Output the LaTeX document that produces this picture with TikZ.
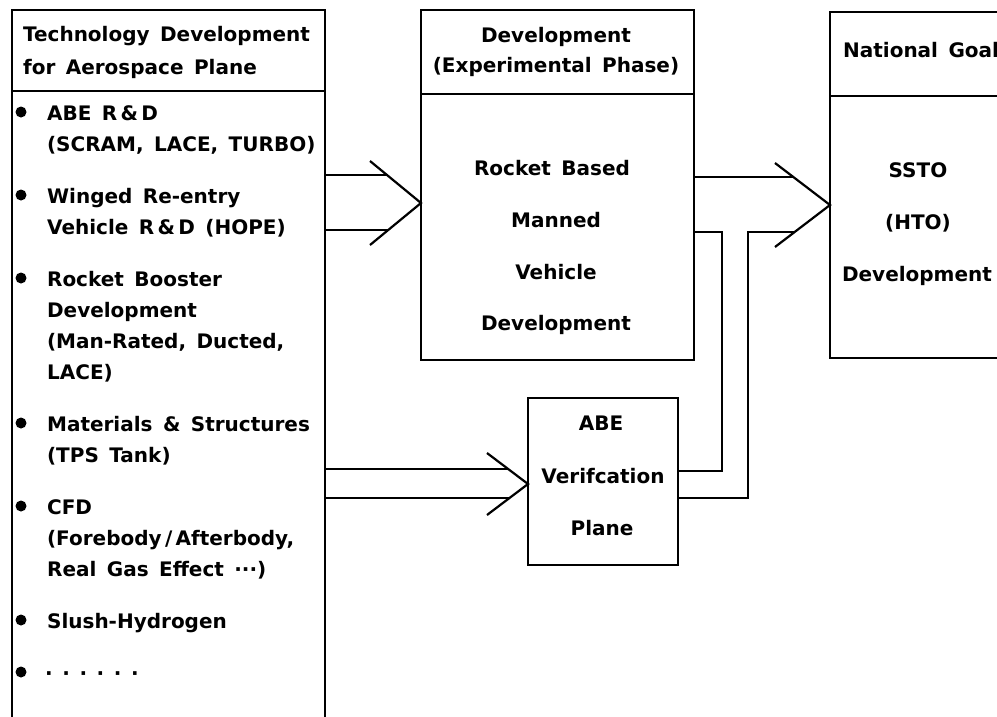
\documentclass[tikz,border=0pt]{standalone}
\usepackage{fontspec}
\setmainfont{DejaVu Sans}[WordSpace=1.5]
\begin{document}
\begin{tikzpicture}[x=1pt,y=-1pt,line width=2.2pt,
  txt/.style={font=\bfseries\fontsize{20}{24}\selectfont, inner sep=0pt},
  lt/.style={txt, anchor=base west},
  ct/.style={txt, anchor=base},
  bul/.style={fill, circle, inner sep=0pt, minimum size=11pt},
  boxnode/.style={draw, rectangle, inner sep=0pt, outer sep=0pt, anchor=north west},
  conn/.style={line width=2.2pt}]
\useasboundingbox (0,0) rectangle (997,716);
\begin{scope}
\clip (0,0) rectangle (997,716);

% ---------- boxes ----------
\coordinate (Lbl) at (12,720);
\coordinate (Ltl) at (12,10);
\coordinate (Ltr) at (325,10);
\coordinate (Lbr) at (325,720);
\draw (Lbl) -- (Ltl) -- (Ltr) -- (Lbr);
\coordinate (Ldl) at (12,91);
\coordinate (Ldr) at (325,91);
\draw (Ldl) -- (Ldr);

\node[boxnode, minimum width=273pt, minimum height=350pt] (mid) at (421,10) {};
\coordinate (Mdl) at (421,94);
\coordinate (Mdr) at (694,94);
\draw (Mdl) -- (Mdr);

\coordinate (Rtr) at (1010,12);
\coordinate (Rtl) at (830,12);
\coordinate (Rbl) at (830,358);
\coordinate (Rbr) at (1010,358);
\draw (Rtr) -- (Rtl) -- (Rbl) -- (Rbr);
\coordinate (Rdl) at (830,96);
\coordinate (Rdr) at (1010,96);
\draw (Rdl) -- (Rdr);

\node[boxnode, minimum width=150pt, minimum height=167pt] (abe) at (528,398) {};

% ---------- left box text ----------
\node[lt] (lh1) at (22,41) {Technology Development};
\node[lt] (lh2) at (22,74) {for Aerospace Plane};

\node[bul] (b1) at (21,112) {};
\node[lt] (t11) at (46,120) {ABE R\,\&\,D};
\node[lt] (t12) at (46,151) {(SCRAM, LACE, TURBO)};

\node[bul] (b2) at (21,195) {};
\node[lt] (t21) at (46,203) {Winged Re-entry};
\node[lt] (t22) at (46,234) {Vehicle R\,\&\,D (HOPE)};

\node[bul] (b3) at (21,278) {};
\node[lt] (t31) at (46,286) {Rocket Booster};
\node[lt] (t32) at (46,317) {Development};
\node[lt] (t33) at (46,348) {(Man-Rated, Ducted,};
\node[lt] (t34) at (46,379) {LACE)};

\node[bul] (b4) at (21,423) {};
\node[lt] (t41) at (46,431) {Materials \& Structures};
\node[lt] (t42) at (46,462) {(TPS Tank)};

\node[bul] (b5) at (21,506) {};
\node[lt] (t51) at (46,514) {CFD};
\node[lt] (t52) at (46,545) {(Forebody\,/\,Afterbody,};
\node[lt] (t53) at (46,576) {Real Gas Effect ···)};

\node[bul] (b6) at (21,620) {};
\node[lt] (t61) at (46,628) {Slush-Hydrogen};

\node[bul] (b7) at (21,672) {};
\node[lt] (t71) at (44,680) {·\kern9.6pt·\kern9.6pt·\kern9.6pt·\kern9.6pt·\kern9.6pt·};

% ---------- middle box text ----------
\node[ct] (mh1) at (556,42) {Development};
\node[ct] (mh2) at (556,72) {(Experimental Phase)};
\node[ct] (m1) at (552,175) {Rocket Based};
\node[ct] (m2) at (556,227) {Manned};
\node[ct] (m3) at (556,279) {Vehicle};
\node[ct] (m4) at (556,330) {Development};

% ---------- right box text ----------
\node[lt] (rh1) at (842,57) {National Goal};
\node[ct] (r1) at (918,177) {SSTO};
\node[ct] (r2) at (918,229) {(HTO)};
\node[ct] (r3) at (917,281) {Development};

% ---------- ABE box text ----------
\node[ct] (v1) at (601,430) {ABE};
\node[ct] (v2) at (603,483) {Verifcation};
\node[ct] (v3) at (602,535) {Plane};

% ---------- arrow: left box -> middle box ----------
\coordinate (a1s) at (325,175);
\coordinate (a1e) at (388,175);
\coordinate (a2s) at (325,230);
\coordinate (a2e) at (388,230);
\coordinate (c1u) at (370,161);
\coordinate (c1t) at (421,203);
\coordinate (c1d) at (370,245);
\draw[conn] (a1s) -- (a1e);
\draw[conn] (a2s) -- (a2e);
\draw[conn] (c1u) -- (c1t) -- (c1d);

% ---------- arrow: left box -> ABE box ----------
\coordinate (a3s) at (325,469);
\coordinate (a3e) at (508,469);
\coordinate (a4s) at (325,498);
\coordinate (a4e) at (509,498);
\coordinate (c2u) at (487,453);
\coordinate (c2t) at (528,484);
\coordinate (c2d) at (487,515);
\draw[conn] (a3s) -- (a3e);
\draw[conn] (a4s) -- (a4e);
\draw[conn] (c2u) -- (c2t) -- (c2d);

% ---------- arrow: middle + ABE -> right box ----------
\coordinate (a5s) at (694,177);
\coordinate (a5e) at (793,177);
\coordinate (c3u) at (775,163);
\coordinate (c3t) at (830,205);
\coordinate (c3d) at (775,247);
\coordinate (a6e) at (794,232);
\coordinate (k1) at (748,232);
\coordinate (k2) at (748,498);
\coordinate (k3) at (678,498);
\coordinate (j0) at (694,232);
\coordinate (j1) at (722,232);
\coordinate (j2) at (722,471);
\coordinate (j3) at (678,471);
\draw[conn] (a5s) -- (a5e);
\draw[conn] (c3u) -- (c3t) -- (c3d);
\draw[conn] (a6e) -- (k1) -- (k2) -- (k3);
\draw[conn] (j0) -- (j1) -- (j2) -- (j3);
\end{scope}
\end{tikzpicture}
\end{document}
